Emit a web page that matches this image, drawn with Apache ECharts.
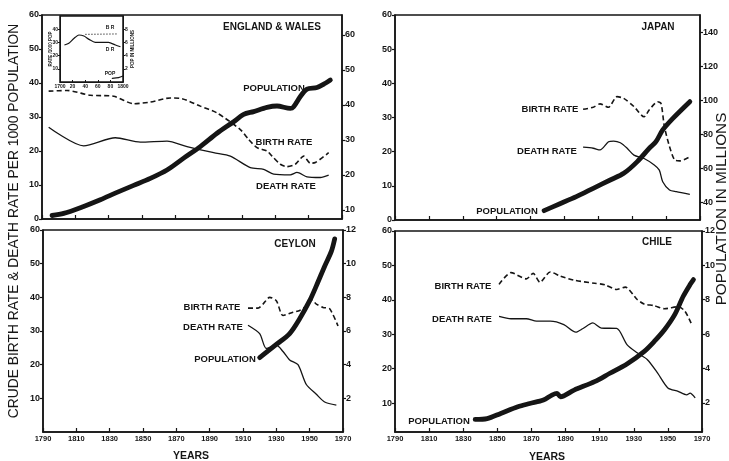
<!DOCTYPE html>
<html><head><meta charset="utf-8">
<script src="https://cdn.jsdelivr.net/npm/echarts@6/dist/echarts.min.js"></script>
<style>html,body{margin:0;padding:0;background:#fff}#c{width:729px;height:461px}</style>
</head><body><div id="c"></div>
<script>
// ---------- DATA ----------
const yearTicks = [1790,1810,1830,1850,1870,1890,1910,1930,1950,1970];

// England & Wales
const ewBirthYears = [1794,1805,1819,1833,1845,1855,1867,1874,1885,1895,1909,1914,1919,1925,1928,1933,1937,1942,1947,1951,1954,1962];
const ewBirthRates = [37.6,37.8,36.4,36.1,33.9,34.4,35.6,35.4,33.2,31.2,26.3,23.4,21,20,18.5,16.1,15.4,16.1,18.5,16.4,16.6,19.5];
const ewDeathYears = [1794,1815,1834,1849,1865,1877,1893,1903,1915,1923,1929,1939,1943,1949,1957,1962];
const ewDeathRates = [27,21.5,23.9,22.6,22.9,21.3,19.5,18.5,15.1,14.6,13.2,13,13.7,12.4,12.2,12.9];
const ewPopYears = [1796,1803,1815,1825,1835,1845,1855,1865,1875,1885,1895,1905,1911,1917,1925,1931,1939,1941,1945,1949,1955,1960,1963];
const ewPop = [8.4,9.0,11,12.9,15,17,19,21.4,24.8,28.1,31.9,35.2,37.3,38.1,39.3,39.7,39,39.5,42.4,44.5,45,46.2,47.1];

// England & Wales inset (18th century)
const insetDeathYears = [1707,1714,1722,1730,1738,1746,1756,1777,1788,1796];
const insetDeathRates = [28,29.3,33,35.6,34.8,32.3,30,30,28,26.7];
const insetBirthYears = [1740,1790];
const insetBirthRates = [36.1,36.4];
const insetPopYears = [1783,1793,1800];
const insetPop = [0.56,0.65,0.9];

// Japan
const jpBirthYears = [1901,1907,1911,1916,1921,1925,1931,1937,1940,1945,1947,1949,1952,1955,1958,1964];
const jpBirthRates = [32.4,33,34,33,36.1,35.6,33.2,30.2,32.2,34.6,34.1,27.3,21.5,17.6,17.3,18.5];
const jpDeathYears = [1901,1907,1911,1916,1919,1923,1927,1931,1937,1943,1946,1948,1952,1956,1964];
const jpDeathRates = [21.3,21,20.5,22.9,23.1,22.6,21,19,18,16.1,14.6,11.2,8.8,8.3,7.5];
const jpPopYears = [1878,1887,1897,1907,1917,1925,1933,1940,1944,1948,1954,1964];
const jpPop = [35.3,39.2,43.5,48.4,53.3,57.2,64.1,71.9,75.8,82.7,89.5,99.3];

// Ceylon
const cyBirthYears = [1913,1919,1922,1926,1930,1934,1940,1944,1948,1951,1954,1958,1962,1967];
const cyBirthRates = [36.8,36.8,38,40,39,34.6,35.6,36.1,37.5,39.3,38,37,36.6,31.5];
const cyDeathYears = [1913,1920,1924,1930,1934,1938,1943,1948,1954,1959,1966];
const cyDeathRates = [31.7,29.2,24.8,25.8,23.9,21.4,20,14.1,11.2,8.9,8];
const cyPopYears = [1920,1930,1938,1944,1950,1954,1959,1963,1965];
const cyPop = [4.42,5.2,5.85,6.73,7.8,8.68,9.85,10.73,11.47];

// Chile
const clBirthYears = [1851,1858,1867,1871,1875,1881,1887,1895,1907,1913,1920,1925,1932,1936,1942,1948,1956,1960,1964];
const clBirthRates = [44.5,47.9,46.1,47.7,45.1,48.1,46.9,45.7,44.8,44.4,43,43.7,40.1,38.8,38.3,37.4,38,36.7,32.8];
const clDeathYears = [1851,1858,1867,1873,1881,1889,1896,1900,1906,1911,1920,1926,1932,1938,1944,1950,1956,1961,1963,1966];
const clDeathRates = [35.2,34.5,34.5,33.8,33.8,32.8,30.6,31.6,33.3,31.8,31.7,27,24.6,22.6,18.7,14.4,13.4,12.4,12.9,11.5];
const clPopYears = [1837,1844,1852,1862,1869,1877,1882,1885,1887,1895,1907,1916,1926,1936,1942,1948,1954,1959,1963,1965];
const clPop = [1.03,1.08,1.38,1.77,1.96,2.16,2.45,2.55,2.35,2.74,3.23,3.72,4.26,4.98,5.57,6.25,7.13,8.2,8.88,9.17];

// Axis tick labels
const rateTicksTop = [0,10,20,30,40,50,60];
const rateTicksBottom = [10,20,30,40,50,60];
const ewPopTicks = [10,20,30,40,50,60];
const jpPopTicks = [40,60,80,100,120,140];
const smallPopTicks = [2,4,6,8,10,12];
const insetYearTicks = [1700,1720,1740,1760,1780,1800];
const insetRateTicks = [10,20,30,40];
const insetPopTicks = [2,4,6,8];

// ---------- CHART ----------
const zip = (xs, ys) => xs.map((x, i) => [x, ys[i]]);
const INK = '#151515';
const FONT = "'Liberation Sans', Arial, sans-serif";

const grids = [
  {left: 42, top: 15, width: 300, height: 204},
  {left: 395, top: 15, width: 305, height: 205},
  {left: 43, top: 230, width: 300, height: 202},
  {left: 395, top: 231, width: 307, height: 201},
  {left: 60, top: 16, width: 63, height: 66}
].map(g => Object.assign({show: true, borderColor: INK, borderWidth: 1.5, backgroundColor: 'transparent'}, g));

function xAx(gi, showLabels) {
  return {
    type: 'value', gridIndex: gi, min: 1790, max: 1970,
    axisLine: {show: true, lineStyle: {color: INK, width: 1.5}},
    axisTick: {show: true, inside: true, length: 4, lineStyle: {color: INK, width: 1.2}, customValues: yearTicks},
    axisLabel: {show: showLabels, customValues: yearTicks, color: INK, fontSize: 7.5, fontWeight: 'bold', fontFamily: FONT, margin: 3,
      formatter: v => String(v)},
    splitLine: {show: false}
  };
}
function yAx(gi, pos, min, max, ticks) {
  return {
    type: 'value', gridIndex: gi, position: pos, min: min, max: max,
    axisLine: {show: true, lineStyle: {color: INK, width: 1.5}},
    axisTick: {show: true, inside: false, length: 3, lineStyle: {color: INK, width: 1.2}, customValues: ticks},
    axisLabel: {show: true, customValues: ticks, color: INK, fontSize: 9, fontWeight: 'bold', fontFamily: FONT, margin: 3,
      formatter: v => String(v)},
    splitLine: {show: false}
  };
}

const xAxes = [xAx(0, false), xAx(1, false), xAx(2, true), xAx(3, true),
  {type: 'value', gridIndex: 4, min: 1700, max: 1800,
   axisLine: {show: true, lineStyle: {color: INK, width: 1}},
   axisTick: {show: true, inside: true, length: 2, lineStyle: {color: INK}, customValues: insetYearTicks},
   axisLabel: {show: true, customValues: insetYearTicks, color: INK, fontSize: 5, fontWeight: 'bold', fontFamily: FONT, margin: 2,
     formatter: v => (v === 1700 || v === 1800) ? String(v) : String(v).slice(2)},
   splitLine: {show: false}}];

const yAxes = [
  yAx(0, 'left', 0, 60, rateTicksTop), yAx(0, 'right', 7.4, 65.7, ewPopTicks),
  yAx(1, 'left', 0, 60, rateTicksTop), yAx(1, 'right', 29.8, 150.2, jpPopTicks),
  yAx(2, 'left', 0, 60, rateTicksBottom), yAx(2, 'right', 0, 12, smallPopTicks),
  yAx(3, 'left', 1.6, 60, rateTicksBottom), yAx(3, 'right', 0.3, 12, smallPopTicks),
  {type: 'value', gridIndex: 4, position: 'left', min: 0, max: 50,
   axisLine: {show: true, lineStyle: {color: INK, width: 1}},
   axisTick: {show: true, length: 2, lineStyle: {color: INK}, customValues: insetRateTicks},
   axisLabel: {show: true, customValues: insetRateTicks, color: INK, fontSize: 5, fontWeight: 'bold', fontFamily: FONT, margin: 2},
   splitLine: {show: false}},
  {type: 'value', gridIndex: 4, position: 'right', min: 0, max: 10,
   axisLine: {show: true, lineStyle: {color: INK, width: 1}},
   axisTick: {show: true, length: 2, lineStyle: {color: INK}, customValues: insetPopTicks},
   axisLabel: {show: true, customValues: insetPopTicks, color: INK, fontSize: 5, fontWeight: 'bold', fontFamily: FONT, margin: 2},
   splitLine: {show: false}}
];

function birth(xi, yi, xs, ys, w) {
  return {type: 'line', xAxisIndex: xi, yAxisIndex: yi, data: zip(xs, ys), showSymbol: false, smooth: 0.25, silent: true,
    lineStyle: {color: INK, width: w || 1.6, type: [5, 3]}};
}
function death(xi, yi, xs, ys, w) {
  return {type: 'line', xAxisIndex: xi, yAxisIndex: yi, data: zip(xs, ys), showSymbol: false, smooth: 0.25, silent: true,
    lineStyle: {color: INK, width: w || 1.3}};
}
function pop(xi, yi, xs, ys, w) {
  return {type: 'line', xAxisIndex: xi, yAxisIndex: yi, data: zip(xs, ys), showSymbol: false, smooth: 0.3, silent: true,
    lineStyle: {color: INK, width: w || 4.8, cap: 'round', join: 'round'}};
}

const series = [
  birth(0, 0, ewBirthYears, ewBirthRates), death(0, 0, ewDeathYears, ewDeathRates), pop(0, 1, ewPopYears, ewPop),
  birth(1, 2, jpBirthYears, jpBirthRates), death(1, 2, jpDeathYears, jpDeathRates), pop(1, 3, jpPopYears, jpPop),
  birth(2, 4, cyBirthYears, cyBirthRates), death(2, 4, cyDeathYears, cyDeathRates), pop(2, 5, cyPopYears, cyPop),
  birth(3, 6, clBirthYears, clBirthRates), death(3, 6, clDeathYears, clDeathRates), pop(3, 7, clPopYears, clPop),
  {type: 'line', xAxisIndex: 4, yAxisIndex: 8, data: zip(insetBirthYears, insetBirthRates), showSymbol: false, silent: true,
   lineStyle: {color: INK, width: 0.8, type: [1.5, 1.5]}},
  death(4, 8, insetDeathYears, insetDeathRates, 1.2),
  pop(4, 9, insetPopYears, insetPop, 1.2)
];

function txt(s, x, y, size, weight, rot) {
  return {type: 'text', x: x, y: y, rotation: rot || 0, silent: true, z: 10,
    style: {text: s, fill: INK, fontSize: size, fontWeight: weight || 'bold', fontFamily: FONT, align: 'center', verticalAlign: 'middle'}};
}

const graphics = [
  txt('ENGLAND & WALES', 272, 27.5, 10),
  txt('JAPAN', 658, 27.5, 10),
  txt('CEYLON', 295, 244, 10),
  txt('CHILE', 657, 242.5, 10),
  txt('POPULATION', 274, 88, 9.5),
  txt('BIRTH RATE', 284, 142.5, 9.5),
  txt('DEATH RATE', 286, 186, 9.5),
  txt('BIRTH RATE', 550, 109, 9.5),
  txt('DEATH RATE', 547, 151, 9.5),
  txt('POPULATION', 507, 211, 9.5),
  txt('BIRTH RATE', 212, 307, 9.5),
  txt('DEATH RATE', 213, 327, 9.5),
  txt('POPULATION', 225, 359, 9.5),
  txt('BIRTH RATE', 463, 286, 9.5),
  txt('DEATH RATE', 462, 319, 9.5),
  txt('POPULATION', 439, 421, 9.5),
  txt('CRUDE BIRTH RATE & DEATH RATE PER 1000 POPULATION', 14, 221, 13.8, 'normal', Math.PI / 2),
  txt('POPULATION IN MILLIONS', 722, 209, 15.3, 'normal', Math.PI / 2),
  txt('YEARS', 191, 456, 10.5),
  txt('YEARS', 547, 457, 10.5),
  // inset annotations
  txt('B R', 110, 28, 5),
  txt('D R', 110, 50, 5),
  txt('POP', 110, 74, 5),
  txt('RATE /1000 POP', 51, 49, 4.5, 'bold', Math.PI / 2),
  txt('POP IN MILLIONS', 133, 49, 4.5, 'bold', Math.PI / 2)
];

const chart = echarts.init(document.getElementById('c'), null, {renderer: 'canvas'});
chart.setOption({
  animation: false,
  backgroundColor: '#fff',
  grid: grids,
  xAxis: xAxes,
  yAxis: yAxes,
  series: series,
  graphic: graphics
});
</script>
</body></html>
